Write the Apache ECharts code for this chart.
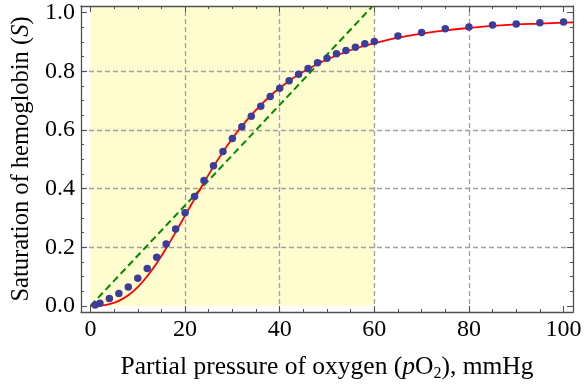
<!DOCTYPE html>
<html>
<head>
<meta charset="utf-8">
<script src="https://cdn.jsdelivr.net/npm/echarts@6/dist/echarts.min.js"></script>
<style>
html, body { margin: 0; padding: 0; background: #fff; }
#main { width: 584px; height: 387px; }
</style>
</head>
<body>
<div id="main"></div>
<script>
// measured points (blue dots)
var dotP = [1, 2, 4, 6, 8, 10, 12, 14, 16, 18, 20, 22, 24, 26, 28, 30, 32, 34, 36, 38,
            40, 42, 44, 46, 48, 50, 52, 54, 56, 58, 60, 65, 70, 75, 80, 85, 90, 95, 100];
var dotS = [0.003, 0.009, 0.025, 0.042, 0.064, 0.094, 0.127, 0.166, 0.211, 0.262,
            0.318, 0.373, 0.428, 0.478, 0.527, 0.571, 0.611, 0.647, 0.681, 0.714,
            0.742, 0.768, 0.790, 0.810, 0.829, 0.845, 0.860, 0.871, 0.882, 0.894,
            0.902, 0.921, 0.933, 0.945, 0.951, 0.958, 0.962, 0.966, 0.968];
// red fitted curve
var fitP = [0, 2, 4, 6, 8, 10, 12, 14, 16, 18, 20, 22, 24, 26, 28, 30, 32, 34, 36, 38,
            40, 44, 48, 52, 56, 60, 65, 70, 75, 80, 85, 90, 95, 100, 102];
var fitS = [0, 0.001, 0.006, 0.017, 0.036, 0.064, 0.101, 0.145, 0.196, 0.251, 0.308,
            0.365, 0.421, 0.475, 0.525, 0.571, 0.613, 0.651, 0.685, 0.716, 0.743,
            0.789, 0.825, 0.854, 0.878, 0.896, 0.915, 0.929, 0.940, 0.948, 0.955,
            0.960, 0.963, 0.966, 0.967];
// green dashed straight line
var lineP = [0, 59.5];
var lineS = [0, 1.02];
// shaded range and grid lines
var shadeTo = 60;
var xGrid = [20, 40, 60, 80];
var yGrid = [0.2, 0.4, 0.6, 0.8];
// ticks
var xMajor = [0, 20, 40, 60, 80, 100];
var xMinor = [5, 10, 15, 25, 30, 35, 45, 50, 55, 65, 70, 75, 85, 90, 95];
var yMajor = [0, 0.2, 0.4, 0.6, 0.8, 1.0];
var yMinor = [0.05, 0.1, 0.15, 0.25, 0.3, 0.35, 0.45, 0.5, 0.55, 0.65, 0.7, 0.75, 0.85, 0.9, 0.95];

var FONT = '"Liberation Serif", "Times New Roman", serif';
var FRAME = '#505050';

function pairs(a, b) {
    var out = [];
    for (var i = 0; i < a.length; i++) out.push([a[i], b[i]]);
    return out;
}

function axis(pos, min, max, ticks, len, showLine, showLabel, fmt) {
    return {
        type: 'value', position: pos, min: min, max: max, z: 5,
        axisLine: { show: showLine, onZero: false, lineStyle: { color: FRAME, width: 1.3 } },
        axisTick: { show: true, inside: true, length: len, customValues: ticks,
                    lineStyle: { color: FRAME, width: 1 } },
        axisLabel: { show: showLabel, customValues: ticks, formatter: fmt,
                     fontFamily: FONT, fontSize: 24, color: '#000', margin: 6 },
        splitLine: { show: false }
    };
}

var xFmt = function (v) { return String(Math.round(v)); };
var yFmt = function (v) { return v.toFixed(1); };

var xAxes = [
    axis('bottom', -2, 102, xMajor, 6, true, true, xFmt),
    axis('bottom', -2, 102, xMinor, 3, false, false),
    axis('top', -2, 102, xMajor, 6, true, false),
    axis('top', -2, 102, xMinor, 3, false, false)
];
xAxes[0].name = '{n|Partial pressure of oxygen (}{i|p}{n|O}{sub|2}{n|), mmHg}';
xAxes[0].nameLocation = 'middle';
xAxes[0].nameGap = 40;
xAxes[0].nameTextStyle = {
    fontFamily: FONT, fontSize: 25.5, color: '#000',
    rich: {
        n: { fontFamily: FONT, fontSize: 25.5, color: '#000', lineHeight: 30 },
        i: { fontFamily: FONT, fontSize: 25.5, color: '#000', fontStyle: 'italic', lineHeight: 30 },
        sub: { fontFamily: FONT, fontSize: 16, color: '#000', lineHeight: 30, verticalAlign: 'bottom' }
    }
};

var yAxes = [
    axis('left', -0.021, 1.023, yMajor, 6, true, true, yFmt),
    axis('left', -0.021, 1.023, yMinor, 3, false, false),
    axis('right', -0.021, 1.023, yMajor, 6, true, false),
    axis('right', -0.021, 1.023, yMinor, 3, false, false)
];
yAxes[0].name = '{n|Saturation of hemoglobin (}{i|S}{n|)}';
yAxes[0].nameLocation = 'middle';
yAxes[0].nameGap = 39;
yAxes[0].nameTextStyle = {
    fontFamily: FONT, fontSize: 24.5, color: '#000',
    rich: {
        n: { fontFamily: FONT, fontSize: 24.5, color: '#000' },
        i: { fontFamily: FONT, fontSize: 24.5, color: '#000', fontStyle: 'italic' }
    }
};

var gridLines = [];
xGrid.forEach(function (v) { gridLines.push({ xAxis: v }); });
yGrid.forEach(function (v) { gridLines.push({ yAxis: v }); });

var chart = echarts.init(document.getElementById('main'), null, { renderer: 'canvas' });
chart.setOption({
    animation: false,
    backgroundColor: '#fff',
    grid: { left: 81, right: 11, top: 6, bottom: 75, containLabel: false, outerBoundsMode: 'none' },
    xAxis: xAxes,
    yAxis: yAxes,
    series: [
        {
            // straight dashed line, also carries the shading and grid lines
            type: 'line', z: 3,
            data: pairs(lineP, lineS),
            symbol: 'none',
            lineStyle: { color: '#008a00', width: 2, type: [7, 4] },
            markArea: {
                silent: true, z: 1,
                itemStyle: { color: '#fffdd0' },
                data: [[{ xAxis: 'min', yAxis: 'min' }, { xAxis: shadeTo, yAxis: 'max' }]]
            },
            markLine: {
                silent: true, z: 2, symbol: 'none',
                label: { show: false },
                lineStyle: { color: '#a0a0a0', width: 1.3, type: [5, 3] },
                data: gridLines
            }
        },
        {
            type: 'line', z: 4,
            data: pairs(fitP, fitS),
            symbol: 'none',
            smooth: 0.4,
            lineStyle: { color: '#ff0000', width: 1.8 }
        },
        {
            type: 'scatter', z: 5,
            data: pairs(dotP, dotS),
            symbolSize: 7.5,
            itemStyle: { color: '#3c3c9a', opacity: 1 }
        }
    ]
});
</script>
</body>
</html>
